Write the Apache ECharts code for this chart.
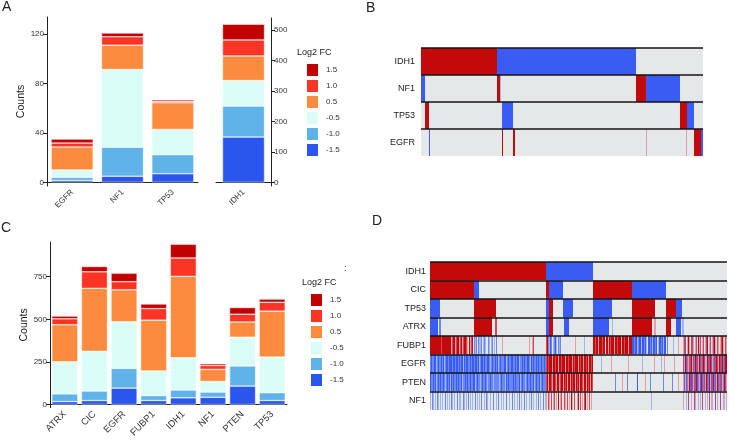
<!DOCTYPE html>
<html><head><meta charset="utf-8">
<script src="https://cdn.jsdelivr.net/npm/echarts@6/dist/echarts.min.js"></script>
<style>html,body{margin:0;padding:0;background:#fff}#c{width:729px;height:440px}</style>
</head><body><div id="c"></div>
<script>
// ---------- Panel A: stacked counts ----------
const levels = ['-1.5', '-1.0', '-0.5', '0.5', '1.0', '1.5'];
const legendOrder = ['1.5', '1.0', '0.5', '-0.5', '-1.0', '-1.5'];
const genesA = ['EGFR', 'NF1', 'TP53'];
const genesA2 = ['IDH1'];
const aNeg15 = [1.5, 5, 7];
const aNeg10 = [2.5, 23.5, 15.4];
const aNeg05 = [6, 63, 20.5];
const aPos05 = [18.6, 19.7, 21.6];
const aPos10 = [3.2, 6.8, 1.3];
const aPos15 = [3.2, 3, 1.1];
const aIdh1 = [149, 101.5, 84, 81, 52.5, 51.5]; // by level, -1.5 .. 1.5
const aTicksLeft = [0, 40, 80, 120];
const aTicksRight = [0, 100, 200, 300, 400, 500];

// ---------- Panel C: stacked counts ----------
const genesC = ['ATRX', 'CIC', 'EGFR', 'FUBP1', 'IDH1', 'NF1', 'PTEN', 'TP53'];
const cNeg15 = [17, 23, 96, 23, 39, 42, 108, 23];
const cNeg10 = [45, 56, 116, 29, 46, 31, 118, 46];
const cNeg05 = [189, 233, 274, 145, 189, 62, 169, 209];
const cPos05 = [217, 370, 187, 298, 478, 71, 89, 270];
const cPos10 = [35, 97, 48, 68, 108, 23, 46, 52];
const cPos15 = [16, 31, 50, 27, 81, 10, 39, 19];
const cTicks = [0, 250, 500, 750];

// ---------- Panel B: per-sample status (run-length: code+count) ----------
const genesB = ['IDH1', 'NF1', 'TP53', 'EGFR'];
const nSamplesB = 282;
const bIDH1 = 'R76 B139 .67';
const bNF1  = 'B4 .72 R3 l1 .135 R10 B34 .23';
const bTP53 = '.4 R4 .73 B11 .167 R7 B7 .9';
const bEGFR = '.8 B1 .72 R1 .10 R2 .131 p1 .39 p1 .7 R7 B2';

// ---------- Panel D: per-sample status ----------
const genesD = ['IDH1', 'CIC', 'TP53', 'ATRX', 'FUBP1', 'EGFR', 'PTEN', 'NF1'];
const nSamplesD = 297;
const dIDH1 = 'R116 B47 .134';
const dCIC  = 'R44 B5 .67 R3 B14 .30 R39 B34 .61';
const dTP53 = 'B10 .34 R22 .50 B3 R4 .10 B10 .20 B19 .20 R23 .11 R10 B6 .45';
const dATRX = 'B8 .1 b2 .33 R18 .3 r2 .49 B3 R4 .11 B5 .24 B16 .3 l1 .19 R20 .2 p2 .10 R5 .5 B5 .1 l2 .43';
// one character per sample (groups of 10)
const dFUBP1 = 'RRRRRRRRRR RrRRRRRRRR RprRRprRRp rRprRRrp.R prR.blb.bl lb.lbl..bl .lb.l.b... ..p....... .......... .........p ..pr...... ......rRbl Bb.lbBl.bl b......... .....p.... ....l..... ...RRrRRpR RRrRR.RRpR rRRRpRRrRR RpRRrRRRpR RRBBbBBlbB BlBBbBl.BB bBlBBbB.lB BbBlBB.b.. ...l....p. ...prv.pRp .rvp.pr.Rp v.pr.pvR.p r.pvRp.rp. prRp.rp';
const dEGFR  = 'bBbbBBlbBb bBbBlbBBbB BBbBBbBBbB bBBlBbBBbb BbBBbBBbBl bBBbBbbBBb lbBbbBbBlb BbbbBBlbBb bBBbbBbBBl bbBbBbbBBb lBbBbbBbBb bBbbBbrRrR RRpRRrRRpR RrRRRpRRrR RRpRrRRRpR rRRpRRrRpR RrR....... .l........ .p........ ........p. .......... ..l....... ....p..... .l..p..... ....p..... ...vpRvbpr vRpvbRrvpR vbrRvplRvr RvpbvrRvpR vrRbvRR';
const dPTEN  = 'BbbBbBlbBb BbbBblbBbB lBbBbbBbBb bBlbbBbBbb BbbBBlbBbb lbBbbBblbb Bbblbbbbbl bBbbblBbBb bbbBbBbbbB lbBbblbBbb BbbBlbBbbB lbBbbbrRpR RrpRRrpRRp rRRpRrRpRR pRrRRpRrRp RRrpRRpRrR pRr....... .......... .....b.... ..p....b.. .......B.. .....p.... b......... ...b...... ..b.....p. ...pvlvbpR vBvprvVvbp vVrbvpRvbV pvrVbvpRvb rvpbRvp';
const dNF1   = 'l.bl.l.bl. l.l..b.l.l .bl.l..b.l l..bl.l.b. l.l..b.l.l .b..l.bl.. l..b..l.b. .l.l..b..l ..b.l..l.b .l..b.l..l .b.l..l.b. l..b.lp.rp .r.pr.p.R. pr..rp.r.p .Rp.r..pR. r.p.rR.p.r .p........ .......... .......... .......... .......... .......... .l........ .......... .......... ...p..l.v. .p..vp..l. p.v..l.p.v .pl..v.p.. v..pl.p';

const codeValue = { 'B': -3, 'b': -2, 'l': -1, '.': 0, 'p': 1, 'r': 2, 'R': 3, 'v': 4, 'V': 5 };

// ---------- styling ----------
const levelColors = ['#2a56ee', '#5fb3e8', '#dbfdf8', '#fb8b3e', '#fa3526', '#c20000'];
const heatPieces = [
  { value: -3, color: '#3a5cf2' }, { value: -2, color: '#6a88f2' }, { value: -1, color: '#a2b5f0' },
  { value: 0, color: '#e5e8e9' }, { value: 1, color: '#e3a0aa' }, { value: 2, color: '#d34852' },
  { value: 3, color: '#c20a0a' }, { value: 4, color: '#9c4f9e' }, { value: 5, color: '#642892' }
];
const FONT = 'Liberation Sans';
const INK = '#222';

function decodeRLE(s) {
  const out = [];
  s.trim().split(/\s+/).forEach(t => { const c = t[0], n = parseInt(t.slice(1), 10); for (let i = 0; i < n; i++) out.push(c); });
  return out;
}
function decodeChars(s) { return s.replace(/\s+/g, '').split(''); }
function fit(arr, n) { const a = arr.slice(0, n); while (a.length < n) a.push('.'); return a; }
// merge consecutive equal samples into runs: [firstSample, lastSample, row, value]
function runData(rows, n) {
  const data = [];
  rows.forEach((codes, r) => {
    const a = fit(codes, n);
    let s = 0;
    for (let x = 1; x <= n; x++) {
      if (x === n || a[x] !== a[s]) { data.push([s, x - 1, r, codeValue[a[s]]]); s = x; }
    }
  });
  return data;
}
const rowsB = [bIDH1, bNF1, bTP53, bEGFR].map(decodeRLE);
const rowsD = [decodeRLE(dIDH1), decodeRLE(dCIC), decodeRLE(dTP53), decodeRLE(dATRX),
  decodeChars(dFUBP1), decodeChars(dEGFR), decodeChars(dPTEN), decodeChars(dNF1)];

const aLevels = [aNeg15, aNeg10, aNeg05, aPos05, aPos10, aPos15];
const cLevels = [cNeg15, cNeg10, cNeg05, cPos05, cPos10, cPos15];

function renderRun(params, api) {
  const p0 = api.coord([api.value(0), api.value(2)]);
  const p1 = api.coord([api.value(1), api.value(2)]);
  const sz = api.size([1, 1]);
  const x0 = Math.round(p0[0] - sz[0] / 2), x1 = Math.round(p1[0] + sz[0] / 2);
  return { type: 'rect', shape: { x: x0, y: p0[1] - sz[1] / 2, width: x1 - x0, height: sz[1] },
    style: { fill: api.visual('color') } };
}

const series = [];
levels.forEach((lv, i) => {
  const st = { color: levelColors[i], borderColor: '#ffffff', borderWidth: 0.5 };
  series.push({ name: lv, type: 'bar', stack: 'A1', xAxisIndex: 0, yAxisIndex: 0, barWidth: 42, data: aLevels[i], itemStyle: st, emphasis: { disabled: true } });
  series.push({ name: lv, type: 'bar', stack: 'A2', xAxisIndex: 1, yAxisIndex: 1, barWidth: 42, data: [aIdh1[i]], itemStyle: st, emphasis: { disabled: true } });
  series.push({ name: lv, type: 'bar', stack: 'C', xAxisIndex: 2, yAxisIndex: 2, barWidth: 26, data: cLevels[i], itemStyle: st, emphasis: { disabled: true } });
});
const hmB = series.length;
series.push({ type: 'custom', xAxisIndex: 3, yAxisIndex: 3, data: runData(rowsB, nSamplesB),
  encode: { x: [0, 1], y: 2 }, renderItem: renderRun, silent: true, z: 1 });
const hmD = series.length;
series.push({ type: 'custom', xAxisIndex: 4, yAxisIndex: 4, data: runData(rowsD, nSamplesD),
  encode: { x: [0, 1], y: 2 }, renderItem: renderRun, silent: true, z: 1 });

const idx = n => Array.from({ length: n }, (_, i) => i);
const catX = (grid, data, fs) => ({
  type: 'category', gridIndex: grid, data: data,
  axisLine: { lineStyle: { color: INK, width: 1 } },
  axisTick: { alignWithLabel: true, length: 4, lineStyle: { color: INK } },
  axisLabel: { rotate: 45, fontSize: fs, color: '#333', margin: 5, fontFamily: FONT }
});
const valY = (grid, min, max, ticks, pos, name) => ({
  type: 'value', gridIndex: grid, min: min, max: max, position: pos,
  name: name, nameLocation: 'middle', nameGap: 18,
  nameTextStyle: { fontSize: 10.5, color: INK, fontFamily: FONT },
  axisLine: { show: true, lineStyle: { color: INK, width: 1 } },
  axisTick: { show: true, length: 4, customValues: ticks, lineStyle: { color: INK } },
  axisLabel: { customValues: ticks, fontSize: 8, color: '#333', margin: 3, fontFamily: FONT },
  splitLine: { show: false }
});
const heatY = (grid, data, margin) => ({
  type: 'category', gridIndex: grid, data: data, inverse: true, z: 10,
  axisLine: { show: false }, axisTick: { show: false },
  axisLabel: { fontSize: 9, color: INK, margin: margin, fontFamily: FONT },
  splitLine: { show: true, showMaxLine: false, lineStyle: { color: '#151515', width: 1.5 } }
});
const legendCfg = (left, top) => ({
  data: legendOrder, orient: 'vertical', left: left, top: top, padding: 0,
  itemWidth: 13, itemHeight: 14, itemGap: 0, icon: 'rect', selectedMode: false,
  textStyle: { fontSize: 8, color: '#333', fontFamily: FONT, padding: [0, 0, 0, 2] }
});
const label = (text, left, top, fs) => ({ text: text, left: left, top: top, padding: 0,
  textStyle: { fontSize: fs, fontWeight: 'normal', color: INK, fontFamily: FONT } });

const option = {
  animation: false,
  backgroundColor: '#ffffff',
  textStyle: { fontFamily: FONT },
  title: [
    label('A', 2, 0, 14), label('B', 366, 1, 14), label('C', 1, 221, 14), label('D', 372, 214, 14),
    label('Log2 FC', 297, 48, 9), label('Log2 FC', 302, 278, 9), label(':', 344, 264, 9)
  ],
  legend: [legendCfg(305, 62), legendCfg(309, 292)],
  visualMap: { type: 'piecewise', show: false, seriesIndex: [hmB, hmD], dimension: 3, pieces: heatPieces },
  grid: [
    { left: 47, top: 17, width: 151, height: 169 },
    { left: 216, top: 18, width: 55, height: 168 },
    { left: 50, top: 242, width: 237, height: 168 },
    { left: 421, top: 48, width: nSamplesB, height: 108 },
    { left: 430, top: 262, width: nSamplesD, height: 148 }
  ],
  xAxis: [
    catX(0, genesA, 8),
    catX(1, genesA2, 8),
    catX(2, genesC, 9.5),
    { type: 'category', gridIndex: 3, data: idx(nSamplesB), show: false },
    { type: 'category', gridIndex: 4, data: idx(nSamplesD), show: false }
  ],
  yAxis: [
    valY(0, -3, 134, aTicksLeft, 'left', 'Counts'),
    valY(1, -12, 540, aTicksRight, 'right', ''),
    valY(2, -19, 954, cTicks, 'left', 'Counts'),
    heatY(3, genesB, 6),
    heatY(4, genesD, 4)
  ],
  series: series
};
const chart = echarts.init(document.getElementById('c'), null, { renderer: 'canvas' });
chart.setOption(option);
</script></body></html>
